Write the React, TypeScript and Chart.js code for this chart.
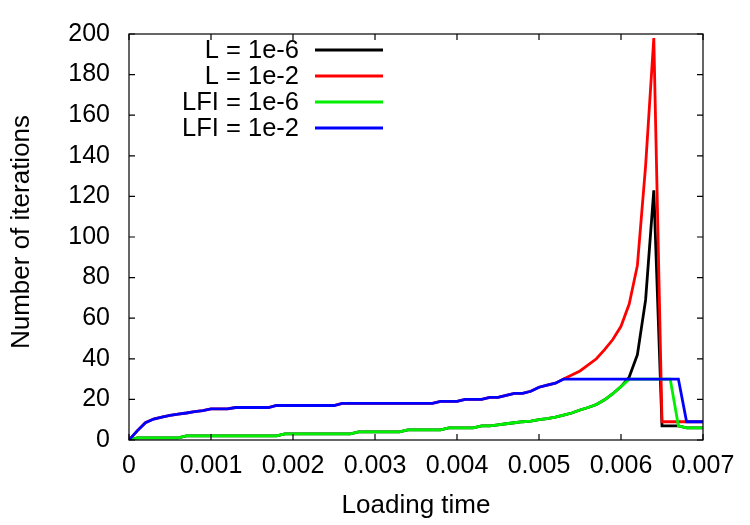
import React, { useEffect, useRef } from "react";
import { Chart, registerables } from "chart.js";

Chart.register(...registerables);

// Loading time (x values)
const loadingTime = [
  0, 0.0001, 0.0002, 0.0003, 0.0004, 0.0005, 0.0006, 0.0007, 0.0008, 0.0009,
  0.001, 0.0011, 0.0012, 0.0013, 0.0014, 0.0015, 0.0016, 0.0017, 0.0018, 0.0019,
  0.002, 0.0021, 0.0022, 0.0023, 0.0024, 0.0025, 0.0026, 0.0027, 0.0028, 0.0029,
  0.003, 0.0031, 0.0032, 0.0033, 0.0034, 0.0035, 0.0036, 0.0037, 0.0038, 0.0039,
  0.004, 0.0041, 0.0042, 0.0043, 0.0044, 0.0045, 0.0046, 0.0047, 0.0048, 0.0049,
  0.005, 0.0051, 0.0052, 0.0053, 0.0054, 0.0055, 0.0056, 0.0057, 0.0058, 0.0059,
  0.006, 0.0061, 0.0062, 0.0063, 0.0064, 0.0065, 0.0066, 0.0067, 0.0068, 0.0069,
  0.007,
];

// L = 1e-6
const itersL6 = [
  0, 1, 1, 1, 1, 1, 1, 2, 2, 2,
  2, 2, 2, 2, 2, 2, 2, 2, 2, 3,
  3, 3, 3, 3, 3, 3, 3, 3, 4, 4,
  4, 4, 4, 4, 5, 5, 5, 5, 5, 6,
  6, 6, 6, 7, 7, 7.5, 8, 8.5, 9, 9.3,
  10, 10.5, 11.3, 12.3, 13.3, 14.8, 16, 17.5, 19.8, 22.8,
  26.3, 31, 42, 69, 123, 7, 7, 7, 6, 6,
  6,
];

// L = 1e-2
const itersL2 = [
  0, 4.5, 8.5, 10.3, 11.3, 12.1, 12.8, 13.3, 14, 14.5,
  15.3, 15.3, 15.3, 16, 16, 16, 16, 16, 17, 17,
  17, 17, 17, 17, 17, 17, 18, 18, 18, 18,
  18, 18, 18, 18, 18, 18, 18, 18, 19, 19,
  19, 20, 20, 20, 21, 21, 22, 23, 23, 24,
  26, 27, 28, 30, 32, 34, 37, 40, 44.5, 49.5,
  56, 67, 86, 135, 198, 9, 9, 9, 9, 9,
  9,
];

// LFI = 1e-6
const itersLFI6 = [
  0, 1, 1, 1, 1, 1, 1, 2, 2, 2,
  2, 2, 2, 2, 2, 2, 2, 2, 2, 3,
  3, 3, 3, 3, 3, 3, 3, 3, 4, 4,
  4, 4, 4, 4, 5, 5, 5, 5, 5, 6,
  6, 6, 6, 7, 7, 7.5, 8, 8.5, 9, 9.3,
  10, 10.5, 11.3, 12.3, 13.3, 14.8, 16, 17.5, 19.8, 22.8,
  26.3, 30, 30, 30, 30, 30, 30, 7, 6, 6,
  6,
];

// LFI = 1e-2
const itersLFI2 = [
  0, 4.5, 8.5, 10.3, 11.3, 12.1, 12.8, 13.3, 14, 14.5,
  15.3, 15.3, 15.3, 16, 16, 16, 16, 16, 17, 17,
  17, 17, 17, 17, 17, 17, 18, 18, 18, 18,
  18, 18, 18, 18, 18, 18, 18, 18, 19, 19,
  19, 20, 20, 20, 21, 21, 22, 23, 23, 24,
  26, 27, 28, 30, 30, 30, 30, 30, 30, 30,
  30, 30, 30, 30, 30, 30, 30, 30, 9, 9,
  9,
];

const seriesLabels = ["L = 1e-6", "L = 1e-2", "LFI = 1e-6", "LFI = 1e-2"];
const seriesColors = ["#000000", "#ff0000", "#00f000", "#0000ff"];
const xTickValues = [0, 0.001, 0.002, 0.003, 0.004, 0.005, 0.006, 0.007];
const yTickValues = [0, 20, 40, 60, 80, 100, 120, 140, 160, 180, 200];
const xTitle = "Loading time";
const yTitle = "Number of iterations";

const FONT = "'Liberation Sans', Arial, Helvetica, sans-serif";

const framePlugin = {
  id: "gnuFrame",
  afterDatasetsDraw(chart: any) {
    const { ctx, chartArea, scales } = chart;
    const { left, right, top, bottom } = chartArea;
    ctx.save();
    ctx.strokeStyle = "#000";
    ctx.lineWidth = 1.2;
    ctx.strokeRect(left, top, right - left, bottom - top);
    const tl = 6;
    ctx.beginPath();
    xTickValues.forEach((v) => {
      const px = scales.x.getPixelForValue(v);
      ctx.moveTo(px, bottom);
      ctx.lineTo(px, bottom - tl);
      ctx.moveTo(px, top);
      ctx.lineTo(px, top + tl);
    });
    yTickValues.forEach((v) => {
      const py = scales.y.getPixelForValue(v);
      ctx.moveTo(left, py);
      ctx.lineTo(left + tl, py);
      ctx.moveTo(right, py);
      ctx.lineTo(right - tl, py);
    });
    ctx.stroke();

    // legend
    ctx.font = `25.5px ${FONT}`;
    ctx.fillStyle = "#000";
    ctx.textAlign = "right";
    ctx.textBaseline = "middle";
    seriesLabels.forEach((lab, i) => {
      const y = 50 + i * 26;
      ctx.fillText(lab, 299, y + 1);
      ctx.beginPath();
      ctx.strokeStyle = seriesColors[i];
      ctx.lineWidth = 2.8;
      ctx.moveTo(315, y);
      ctx.lineTo(383, y);
      ctx.stroke();
    });

    // axis titles
    ctx.fillStyle = "#000";
    ctx.font = `26px ${FONT}`;
    ctx.textAlign = "center";
    ctx.textBaseline = "middle";
    ctx.fillText(xTitle, (left + right) / 2, 506);
    ctx.save();
    ctx.translate(22, 232);
    ctx.rotate(-Math.PI / 2);
    ctx.fillText(yTitle, 0, 0);
    ctx.restore();
    ctx.restore();
  },
};

export default function App() {
  const canvasRef = useRef<HTMLCanvasElement | null>(null);

  useEffect(() => {
    document.body.style.margin = "0";
    const canvas = canvasRef.current;
    if (!canvas) return;
    const series = [itersL6, itersL2, itersLFI6, itersLFI2];
    const datasets = series.map((vals, i) => ({
      label: seriesLabels[i],
      data: loadingTime.map((t, k) => ({ x: t, y: vals[k] })),
      borderColor: seriesColors[i],
      backgroundColor: seriesColors[i],
      borderWidth: 2.8,
      pointRadius: 0,
      tension: 0,
      fill: false,
      order: 4 - i,
    }));
    const chart = new Chart(canvas, {
      type: "line",
      data: { datasets },
      options: {
        animation: false,
        responsive: false,
        maintainAspectRatio: false,
        layout: { padding: { left: 0, right: 47, top: 30, bottom: 0 } },
        plugins: {
          legend: { display: false },
          tooltip: { enabled: false },
        },
        scales: {
          x: {
            type: "linear",
            min: 0,
            max: 0.007,
            border: { display: false },
            grid: { display: false, drawTicks: false },
            ticks: {
              stepSize: 0.001,
              padding: 11,
              color: "#000",
              font: { family: FONT, size: 25 },
              maxRotation: 0,
              autoSkip: false,
              callback: (v: any) => String(Number(Number(v).toFixed(3))),
            },
            afterFit: (s: any) => {
              s.height = 85;
            },
          },
          y: {
            type: "linear",
            min: 0,
            max: 200,
            border: { display: false },
            grid: { display: false, drawTicks: false },
            ticks: {
              stepSize: 20,
              padding: 19,
              color: "#000",
              font: { family: FONT, size: 25 },
              autoSkip: false,
            },
            afterFit: (s: any) => {
              s.width = 129;
            },
          },
        },
      },
      plugins: [framePlugin],
    });
    return () => chart.destroy();
  }, []);

  return (
    <div style={{ width: 750, height: 525, position: "relative" }}>
      <canvas ref={canvasRef} width={750} height={525} style={{ display: "block" }} />
    </div>
  );
}
